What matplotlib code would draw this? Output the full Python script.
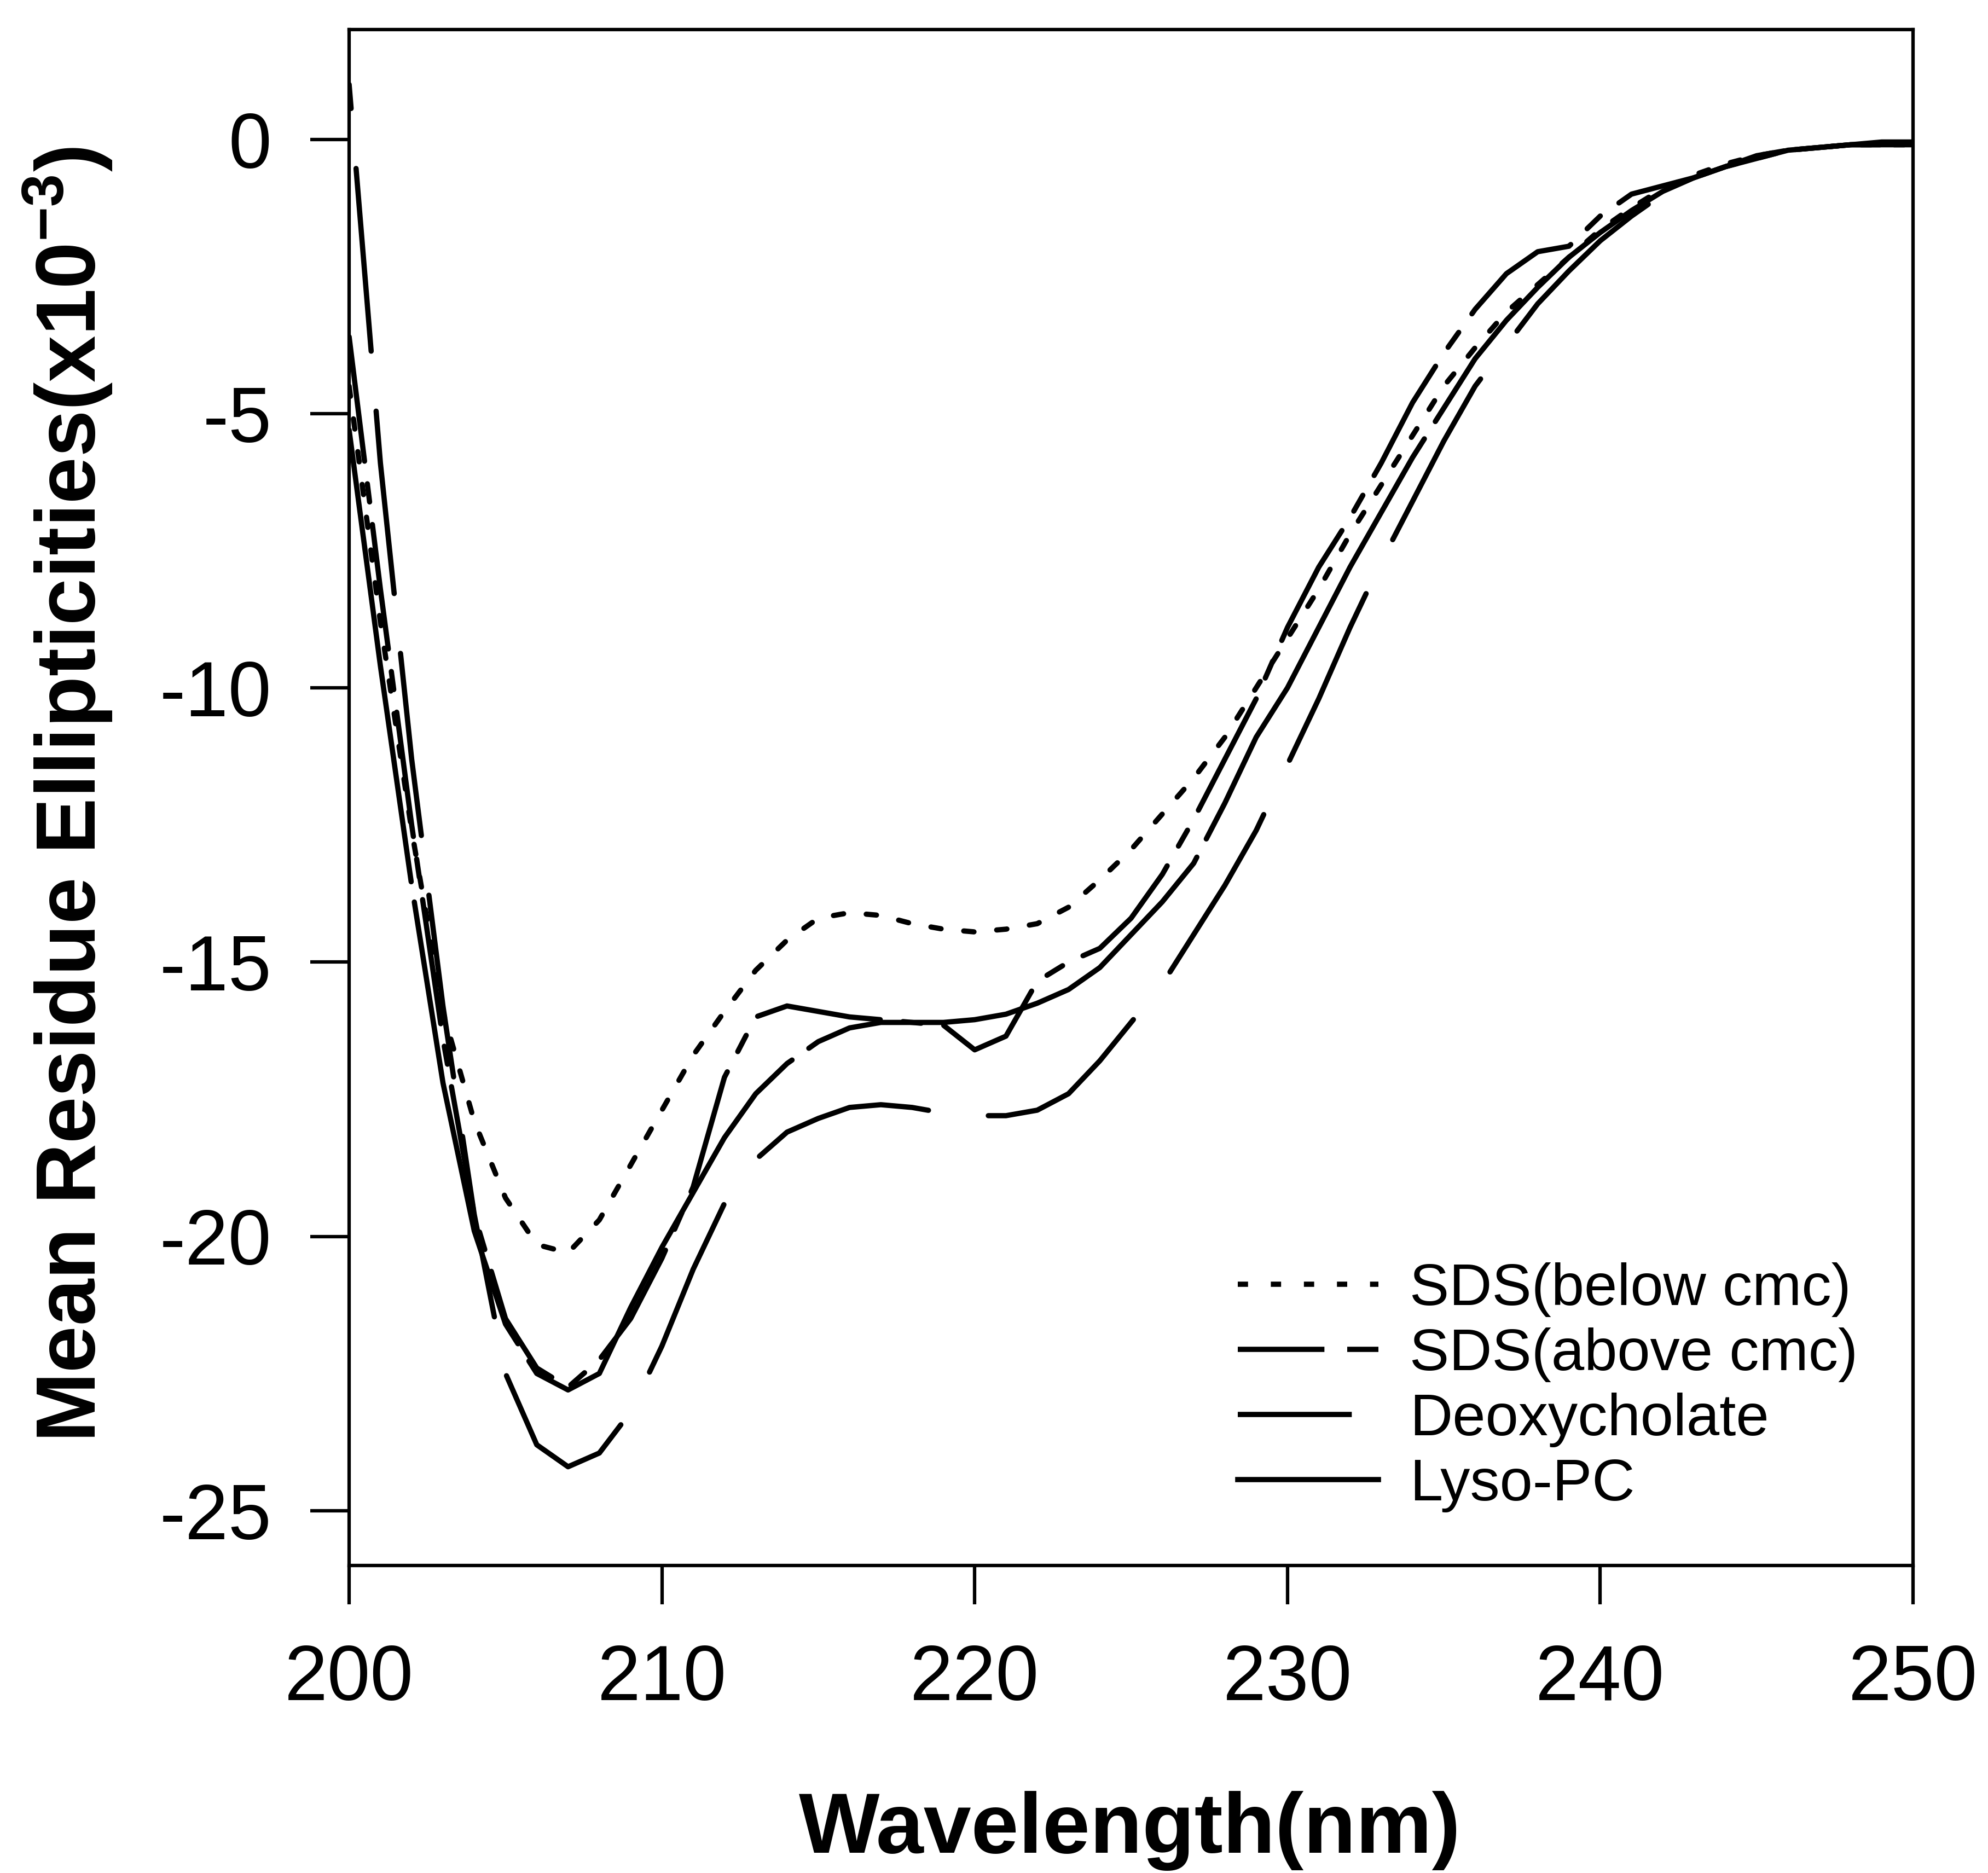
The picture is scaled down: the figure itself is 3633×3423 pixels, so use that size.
import matplotlib
matplotlib.use("Agg")
from matplotlib import pyplot as plt
from matplotlib.lines import Line2D

plt.rcParams['font.family'] = ['Liberation Sans', 'DejaVu Sans']
plt.rcParams['axes.unicode_minus'] = False
plt.rcParams['lines.scale_dashes'] = False
plt.rcParams['mathtext.fontset'] = 'custom'
plt.rcParams['mathtext.rm'] = 'Liberation Sans'
plt.rcParams['mathtext.bf'] = 'Liberation Sans:bold'

W, H = 3633, 3423

# wavelength (nm) and mean residue ellipticity (x10^-3)
wavelength = list(range(200, 251))

sds_below = [-4.5, -8.8, -12.6, -15.9, -17.9, -19.3, -20.15, -20.3, -19.7, -18.7,
             -17.7, -16.7, -15.9, -15.15, -14.6, -14.2, -14.1, -14.15, -14.3, -14.4,
             -14.45, -14.4, -14.3, -14.0, -13.5, -12.95, -12.3, -11.65, -10.9, -10.0,
             -9.1, -8.2, -7.2, -6.3, -5.4, -4.5, -3.8, -3.15, -2.65, -2.15,
             -1.65, -1.25, -0.9, -0.65, -0.45, -0.3, -0.2, -0.15, -0.1, -0.1, -0.1]

sds_above = [-3.6, -8.2, -12.5, -16.4, -19.6, -21.5, -22.4, -22.75, -22.25, -21.5,
             -20.4, -19.1, -17.1, -16.0, -15.8, -15.9, -16.0, -16.05, -16.1, -16.15,
             -16.6, -16.35, -15.35, -15.0, -14.75, -14.2, -13.4, -12.4, -11.3, -10.2,
             -8.9, -7.8, -6.9, -5.9, -4.8, -3.9, -3.1, -2.45, -2.05, -1.95,
             -1.4, -1.0, -0.85, -0.7, -0.5, -0.35, -0.2, -0.15, -0.1, -0.05, -0.05]

deoxycholate = [1.0, -5.9, -11.3, -15.8, -19.6, -22.5, -23.8, -24.2, -23.95, -23.2,
                -22.0, -20.6, -19.4, -18.6, -18.1, -17.85, -17.65, -17.6, -17.65, -17.75,
                -17.8, -17.8, -17.7, -17.4, -16.8, -16.1, -15.4, -14.5, -13.6, -12.6,
                -11.4, -10.2, -8.9, -7.7, -6.6, -5.5, -4.5, -3.75, -3.0, -2.4,
                -1.85, -1.4, -1.0, -0.7, -0.5, -0.35, -0.2, -0.15, -0.1, -0.1, -0.1]

lyso_pc = [-5.3, -9.6, -13.6, -17.2, -19.9, -21.6, -22.5, -22.8, -22.5, -21.3,
           -20.2, -19.2, -18.2, -17.4, -16.85, -16.45, -16.2, -16.1, -16.1, -16.1,
           -16.05, -15.95, -15.75, -15.5, -15.1, -14.5, -13.9, -13.2, -12.1, -10.9,
           -10.0, -8.9, -7.8, -6.8, -5.8, -4.9, -4.0, -3.3, -2.7, -2.15,
           -1.7, -1.3, -0.95, -0.7, -0.5, -0.3, -0.2, -0.15, -0.1, -0.1, -0.1]

labels = ['SDS(below cmc)', 'SDS(above cmc)', 'Deoxycholate', 'Lyso-PC']

lw = 2.3
styles = [(0, (4.5, 10)), (0, (55, 10, 8, 10)), (69.8, (80.4, 26.4)), (0, (200, 9))]
legend_styles = [(0, (4.5, 10)), (0, (38, 10, 14, 10)), (0, (50, 100)), '-']

fig = plt.figure(figsize=(W / 300, H / 300), dpi=300)
ax = fig.add_axes([638 / W, 1 - 2861 / H, (3496 - 638) / W, (2861 - 54) / H])

for ys, ls in zip([sds_below, sds_above, deoxycholate, lyso_pc], styles):
    ax.plot(wavelength, ys, color='black', lw=lw, linestyle=ls,
            solid_capstyle='round', dash_capstyle='round')

ax.set_xlim(200, 250)
ax.set_ylim(-26, 2)
ax.set_xticks(range(200, 251, 10))
ax.set_yticks(range(-25, 1, 5))
for s in ax.spines.values():
    s.set_linewidth(1.5)
ax.tick_params(direction='out', length=17, width=1.5, labelsize=34, pad=17,
               top=False, right=False)

handles = [Line2D([], [], color='black', lw=lw, linestyle=ls) for ls in legend_styles]
ax.legend(handles, labels, loc='upper left',
          bbox_to_anchor=(2262 / W, 1 - 2307 / H), bbox_transform=fig.transFigure,
          frameon=False, fontsize=26, handlelength=2.37, handletextpad=0.53,
          labelspacing=0.175, borderpad=0, borderaxespad=0)

narrow = ['Liberation Sans Narrow', 'Liberation Sans', 'DejaVu Sans']
ylab = fig.text(124 / W, 1 - 1452 / H,
                r'Mean Residue Ellipticities(x10$^{\mathbf{-3}}$)',
                rotation=90, ha='center', va='center', fontsize=38,
                fontweight='bold', family=narrow)
xlab = fig.text(2065 / W, 1 - 3346 / H, 'Wavelength(nm)', ha='center',
                va='center', fontsize=38, fontweight='bold', family=narrow)

# squeeze the axis titles to the lengths they have in the picture
fig.canvas.draw()
r = fig.canvas.get_renderer()
bb = ylab.get_window_extent(r)
ylab.set_fontsize(38 * min(1.0, 2369 / bb.height))
bb = xlab.get_window_extent(r)
xlab.set_fontsize(38 * min(1.0, 1210 / bb.width))

fig.savefig('out.png', dpi=300)
plt.close(fig)
